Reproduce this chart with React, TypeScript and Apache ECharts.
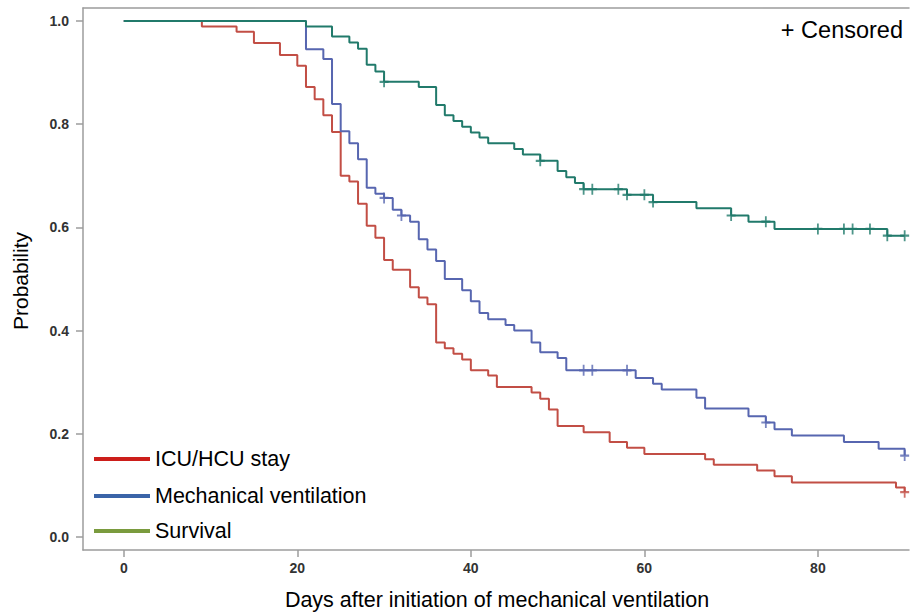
import React, { useEffect, useRef } from "react";
import * as echarts from "echarts";

// ICU/HCU stay (Kaplan-Meier estimates)
const icuTimes = [0, 9, 13, 15, 18, 20, 21, 22, 23, 24, 25, 26, 27, 28, 29, 30, 31, 33, 34, 35, 36, 37, 38, 39, 40, 42, 43, 47, 48, 49, 50, 53, 56, 58, 60, 67, 68, 73, 75, 77, 89, 90];
const icuSurv = [1.0, 0.989, 0.979, 0.957, 0.934, 0.913, 0.872, 0.848, 0.817, 0.785, 0.7, 0.689, 0.646, 0.603, 0.58, 0.537, 0.518, 0.484, 0.464, 0.451, 0.377, 0.366, 0.355, 0.344, 0.323, 0.313, 0.291, 0.28, 0.268, 0.247, 0.215, 0.203, 0.184, 0.173, 0.161, 0.151, 0.14, 0.129, 0.118, 0.106, 0.096, 0.087];
const icuCensor = [90];

// Mechanical ventilation
const mvTimes = [0, 21, 23, 24, 25, 26, 27, 28, 29, 30, 31, 32, 33, 34, 35, 36, 37, 39, 40, 41, 42, 44, 45, 47, 48, 50, 51, 59, 61, 62, 66, 67, 72, 74, 75, 77, 83, 87, 90];
const mvSurv = [1.0, 0.945, 0.926, 0.839, 0.786, 0.763, 0.732, 0.677, 0.665, 0.657, 0.634, 0.623, 0.611, 0.577, 0.557, 0.535, 0.5, 0.478, 0.457, 0.434, 0.422, 0.411, 0.4, 0.377, 0.358, 0.347, 0.323, 0.308, 0.297, 0.286, 0.27, 0.249, 0.234, 0.222, 0.209, 0.197, 0.184, 0.171, 0.158];
const mvCensor = [30, 32, 53, 54, 58, 74, 90];

// Survival
const survTimes = [0, 21, 24, 26, 27, 28, 29, 30, 34, 36, 37, 38, 39, 40, 41, 42, 45, 46, 48, 50, 51, 52, 53, 58, 61, 66, 70, 72, 75, 88];
const survSurv = [1.0, 0.989, 0.97, 0.958, 0.946, 0.915, 0.902, 0.882, 0.872, 0.837, 0.817, 0.806, 0.795, 0.784, 0.774, 0.763, 0.752, 0.741, 0.729, 0.709, 0.697, 0.686, 0.674, 0.663, 0.649, 0.637, 0.623, 0.611, 0.597, 0.584];
const survCensor = [30, 48, 53, 54, 57, 58, 60, 61, 70, 74, 80, 83, 84, 86, 88, 90];

const legendLabels = ["ICU/HCU stay", "Mechanical ventilation", "Survival"];
const xTicks = [0, 20, 40, 60, 80];
const yTicks = [0, 0.2, 0.4, 0.6, 0.8, 1.0];
const xTitle = "Days after initiation of mechanical ventilation";
const yTitle = "Probability";
const censorNote = "+ Censored";

const FONT = "'Liberation Sans', Arial, sans-serif";
const lineColors = ["#C24E45", "#5766B0", "#217A6B"];
const legendColors = ["#CC1E1A", "#3A64A8", "#7A9B3E"];
const PLUS = "path://M4,0H6V4H10V6H6V10H4V6H0V4H4Z";

function stepPoints(times: number[], surv: number[], censor: number[]) {
  const pts = times.map((t, i) => [t, surv[i]]);
  const end = Math.max(...censor);
  if (end > times[times.length - 1]) pts.push([end, surv[surv.length - 1]]);
  return pts;
}

function censorPoints(times: number[], surv: number[], censor: number[]) {
  return censor.map((c) => {
    let s = surv[0];
    for (let i = 0; i < times.length; i++) if (times[i] <= c) s = surv[i];
    return [c, s];
  });
}

export default function App() {
  const ref = useRef<HTMLDivElement>(null);
  useEffect(() => {
    document.body.style.margin = "0";
    const chart = echarts.init(ref.current!, null, { renderer: "svg" });
    const groups = [
      [icuTimes, icuSurv, icuCensor],
      [mvTimes, mvSurv, mvCensor],
      [survTimes, survSurv, survCensor],
    ];
    const series: any[] = [];
    groups.forEach((g, i) => {
      series.push({
        type: "line",
        step: "end",
        data: stepPoints(g[0], g[1], g[2]),
        showSymbol: false,
        lineStyle: { color: lineColors[i], width: 2 },
        itemStyle: { color: lineColors[i] },
        z: 2,
      });
      series.push({
        type: "scatter",
        data: censorPoints(g[0], g[1], g[2]),
        symbol: PLUS,
        symbolSize: [9, 11],
        itemStyle: { color: lineColors[i] },
        z: 3,
      });
    });
    const axisGray = "#9C9C9C";
    const legendY = [459, 496, 531];
    const graphics: any[] = [];
    legendLabels.forEach((lab, i) => {
      graphics.push({
        type: "line",
        shape: { x1: 94, y1: legendY[i], x2: 150, y2: legendY[i] },
        style: { stroke: legendColors[i], lineWidth: 4 },
      });
      graphics.push({
        type: "text",
        x: 155,
        y: legendY[i],
        style: { text: lab, font: `21.5px ${FONT}`, fill: "#000", verticalAlign: "middle", align: "left" },
      });
    });
    graphics.push({
      type: "text",
      x: 497,
      y: 600,
      style: { text: xTitle, font: `21.5px ${FONT}`, fill: "#000", align: "center", verticalAlign: "middle" },
    });
    graphics.push({
      type: "text",
      x: 20,
      y: 281,
      rotation: Math.PI / 2,
      style: { text: yTitle, font: `21px ${FONT}`, fill: "#000", align: "center", verticalAlign: "middle" },
    });
    graphics.push({
      type: "text",
      x: 903,
      y: 30,
      style: { text: censorNote, font: `23.5px ${FONT}`, fill: "#000", align: "right", verticalAlign: "middle" },
    });

    const baseX = {
      type: "value",
      min: -4.7,
      max: 90.5,
      splitLine: { show: false },
    };

    chart.setOption({
      animation: false,
      backgroundColor: "#fff",
      grid: { left: 83, right: 1, top: 8, bottom: 64 },
      xAxis: [
        {
          ...baseX,
          position: "bottom",
          axisLine: { show: true, onZero: false, lineStyle: { color: axisGray, width: 1.5 } },
          axisTick: { show: true, length: 7, lineStyle: { color: axisGray, width: 1.5 }, customValues: xTicks },
          axisLabel: {
            customValues: xTicks,
            color: "#333",
            fontWeight: "bold",
            fontSize: 14,
            fontFamily: FONT,
            margin: 11,
          },
        },
        {
          ...baseX,
          position: "top",
          axisLine: { show: true, onZero: false, lineStyle: { color: axisGray, width: 1.5 } },
          axisTick: { show: false },
          axisLabel: { show: false },
        },
      ],
      yAxis: {
        type: "value",
        min: -0.025,
        max: 1.025,
        splitLine: { show: false },
        axisLine: { show: true, onZero: false, lineStyle: { color: axisGray, width: 1.5 } },
        axisTick: { show: true, length: 7, lineStyle: { color: axisGray, width: 1.5 }, customValues: yTicks },
        axisLabel: {
          customValues: yTicks,
          formatter: (v: number) => v.toFixed(1),
          color: "#333",
          fontWeight: "bold",
          fontSize: 14,
          fontFamily: FONT,
          margin: 14,
        },
      },
      series,
      graphic: graphics,
    });
    return () => chart.dispose();
  }, []);
  return <div ref={ref} style={{ position: "fixed", left: 0, top: 0, width: 910, height: 614 }} />;
}
